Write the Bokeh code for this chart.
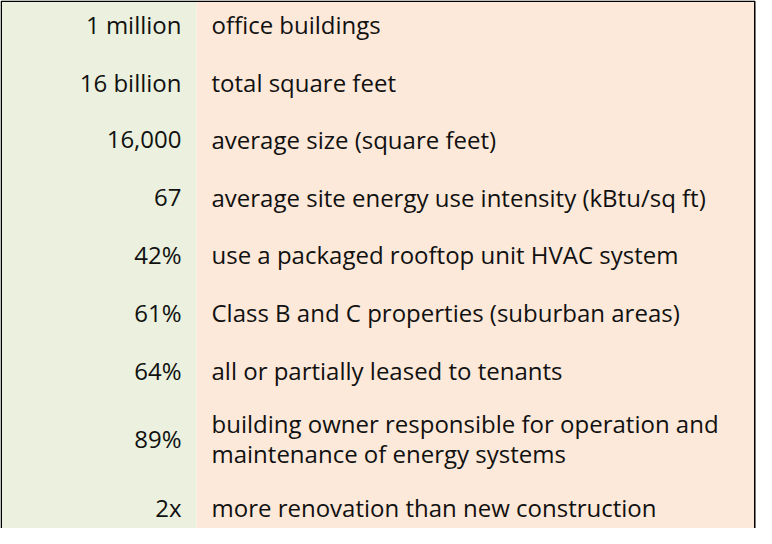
from bokeh.plotting import figure
from bokeh.models import Range1d, ColumnDataSource
from bokeh.core.properties import value
from bokeh.embed import file_html
from bokeh.resources import INLINE

# ---- data ----
stat_values = ["1 million", "16 billion", "16,000", "67", "42%", "61%", "64%", "89%", "2x"]
stat_descriptions = [
    ["office buildings"],
    ["total square feet"],
    ["average size (square feet)"],
    ["average site energy use intensity (kBtu/sq ft)"],
    ["use a packaged rooftop unit HVAC system"],
    ["Class B and C properties (suburban areas)"],
    ["all or partially leased to tenants"],
    ["building owner responsible for operation and", "maintenance of energy systems"],
    ["more renovation than new construction"],
]

# ---- layout ----
W, H = 756, 528
FONT = "Open Sans"
FSIZE = "24px"
TEXT_COLOR = "#111111"
GREEN = "#EBF1DE"
PEACH = "#FDE9D9"
SPLIT = 196          # boundary between the two columns
VAL_X = 181          # right edge of values
DESC_X = 211         # left edge of descriptions
TOP = 24             # center of first row
ROW_H = 57.6
EXTRA_LINE = 22.4
LINE_GAP = 30

p = figure(width=W, height=H, output_backend="svg", toolbar_location=None,
           x_range=Range1d(0, W), y_range=Range1d(H, 0), min_border=0)
p.axis.visible = False
p.grid.visible = False
p.outline_line_color = None
p.background_fill_color = "white"
p.border_fill_color = "white"

# column backgrounds
p.quad(left=[0, SPLIT], right=[SPLIT, W - 1], top=[0, 0], bottom=[H, H],
       fill_color=[GREEN, PEACH], line_color=None)

# compute row centers
centers = []
y = TOP
for i, lines in enumerate(stat_descriptions):
    if i > 0:
        prev = len(stat_descriptions[i - 1])
        y += ROW_H + (prev - 1) * EXTRA_LINE / 2 + (len(lines) - 1) * EXTRA_LINE / 2
    centers.append(y)

val_src = ColumnDataSource(dict(x=[VAL_X] * len(stat_values), y=centers, t=stat_values))
p.text(x="x", y="y", text="t", source=val_src, text_align="right", text_baseline="middle",
       text_font=value(FONT), text_font_size=FSIZE, text_color=TEXT_COLOR)

dx, dy, dt = [], [], []
for c, lines in zip(centers, stat_descriptions):
    n = len(lines)
    for j, ln in enumerate(lines):
        dx.append(DESC_X)
        dy.append(c + (j - (n - 1) / 2) * LINE_GAP)
        dt.append(ln)
desc_src = ColumnDataSource(dict(x=dx, y=dy, t=dt))
p.text(x="x", y="y", text="t", source=desc_src, text_align="left", text_baseline="middle",
       text_font=value(FONT), text_font_size=FSIZE, text_color=TEXT_COLOR)

# border (top, left, right)
p.line(x=[0.75, 0.75, W - 1.75, W - 1.75], y=[H, 0.75, 0.75, H], line_color="black", line_width=1.5)

open("out.html", "w").write(file_html(p, INLINE))
